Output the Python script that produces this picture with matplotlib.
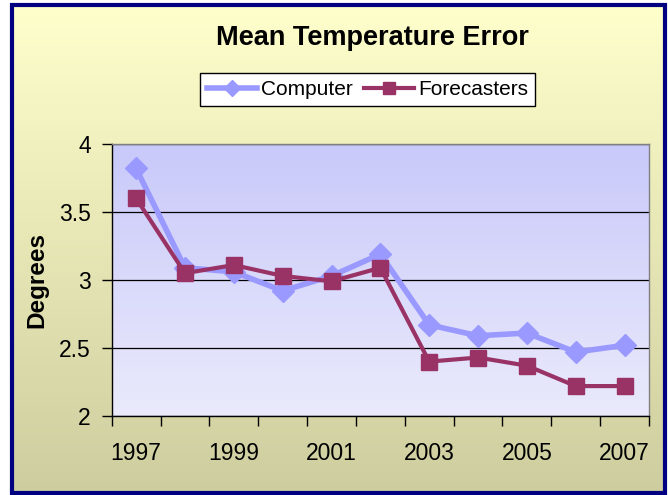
import numpy as np
import matplotlib
matplotlib.use('Agg')
import matplotlib.pyplot as plt
from matplotlib.patches import Rectangle
from matplotlib.colors import LinearSegmentedColormap

plt.rcParams['font.family'] = ['Liberation Sans', 'DejaVu Sans']

# values
years = [1997, 1998, 1999, 2000, 2001, 2002, 2003, 2004, 2005, 2006, 2007]
computer = [3.82, 3.09, 3.06, 2.92, 3.03, 3.19, 2.67, 2.59, 2.61, 2.47, 2.52]
forecasters = [3.60, 3.05, 3.11, 3.03, 2.99, 3.09, 2.40, 2.43, 2.37, 2.22, 2.22]
y_ticks = [2, 2.5, 3, 3.5, 4]
y_tick_labels = ['2', '2.5', '3', '3.5', '4']

W, H = 668, 495
fig = plt.figure(figsize=(W / 100, H / 100), dpi=100)
fig.patch.set_facecolor('white')

# chart area: yellow-to-tan gradient with a navy frame
left, right, top, bottom = 12, 665, 5, 493
bg = fig.add_axes([left / W, 1 - bottom / H, (right - left) / W, (bottom - top) / H])
grad = np.linspace(0, 1, 256).reshape(-1, 1)
bg_cmap = LinearSegmentedColormap.from_list('bg', ['#CDCD9F', '#FFFFCC'])
bg.imshow(grad, extent=[0, 1, 0, 1], origin='lower', aspect='auto', cmap=bg_cmap)
bg.axis('off')
fig.patches.append(Rectangle((left / W, 1 - bottom / H), (right - left) / W, (bottom - top) / H,
                             transform=fig.transFigure, fill=False, edgecolor='#000080',
                             linewidth=3, zorder=10))

# plot area
ax = fig.add_axes([111.7 / W, 1 - 416 / H, (649 - 111.7) / W, (416 - 144) / H])
x = np.arange(len(years))
pa_cmap = LinearSegmentedColormap.from_list('pa', ['#EAEAFC', '#C9C9FA'])
ax.imshow(grad, extent=[-0.5, len(years) - 0.5, 2, 4], origin='lower', aspect='auto',
          cmap=pa_cmap, zorder=0.1)
ax.set_axisbelow(True)
ax.grid(axis='y', color='black', linewidth=0.9)

l1, = ax.plot(x, computer, color='#9999FF', linewidth=4.0, marker='D', markersize=11,
              label='Computer', zorder=2)
l2, = ax.plot(x, forecasters, color='#993366', linewidth=3.0, marker='s', markersize=12,
              label='Forecasters', zorder=3)

ax.set_xlim(-0.5, len(years) - 0.5)
ax.set_ylim(2, 4)
ax.set_yticks(y_ticks)
ax.set_yticklabels(y_tick_labels)
ax.set_xticks(np.arange(-0.5, len(years), 1))
ax.set_xticklabels([])
ax.set_xticks(x[::2], minor=True)
ax.set_xticklabels([str(y) for y in years[::2]], minor=True)
ax.tick_params(axis='x', which='major', length=7, width=1, direction='out')
ax.tick_params(axis='x', which='minor', length=0, pad=19, labelsize=16.5)
ax.tick_params(axis='y', length=7, width=1, direction='out', pad=8, labelsize=16.5)

for side in ['top', 'right']:
    ax.spines[side].set_color('#808080')
for side in ['left', 'bottom']:
    ax.spines[side].set_color('black')
for s in ax.spines.values():
    s.set_linewidth(1)

fig.text(372 / W, 1 - 38 / H, 'Mean Temperature Error', ha='center', va='center',
         fontsize=19.5, fontweight='bold')
fig.text(37 / W, 1 - 280 / H, 'Degrees', ha='center', va='center', rotation=90,
         fontsize=17.5, fontweight='bold')

leg = fig.legend(handles=[l1, l2], loc='center', bbox_to_anchor=(367.5 / W, 1 - 89.5 / H),
                 ncol=2, fontsize=15, frameon=True, fancybox=False, framealpha=1,
                 edgecolor='black', handlelength=2.4, handletextpad=0.2,
                 columnspacing=0.5, borderpad=0.35, markerscale=0.7)
leg.get_frame().set_linewidth(1)

fig.savefig('out.png', dpi=100)
